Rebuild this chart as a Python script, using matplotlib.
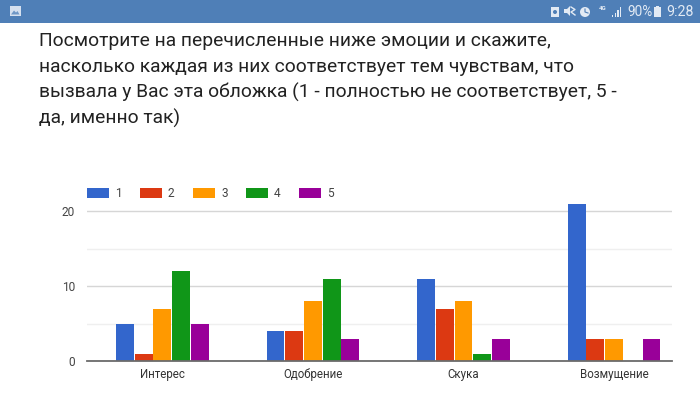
import matplotlib
matplotlib.use("Agg")
import matplotlib.pyplot as plt
from matplotlib.patches import Rectangle, Circle, Polygon

plt.rcParams['font.family'] = ['Roboto', 'DejaVu Sans']

categories = ['Интерес', 'Одобрение', 'Скука', 'Возмущение']
series_names = ['1', '2', '3', '4', '5']
values_1 = [5, 4, 11, 21]
values_2 = [1, 4, 7, 3]
values_3 = [7, 8, 8, 3]
values_4 = [12, 11, 1, 0]
values_5 = [5, 3, 3, 3]
colors = ['#3366cc', '#dc3912', '#ff9900', '#109618', '#990099']
title_lines = ['Посмотрите на перечисленные ниже эмоции и скажите,',
               'насколько каждая из них соответствует тем чувствам, что',
               'вызвала у Вас эта обложка (1 - полностью не соответствует, 5 -',
               'да, именно так)']
title_y = [45.5, 71.5, 97.5, 124]

W, H = 700, 393
fig = plt.figure(figsize=(W / 100, H / 100), dpi=100, facecolor='white')

# pixel overlay
ov = fig.add_axes([0, 0, 1, 1], zorder=5)
ov.set_xlim(0, W); ov.set_ylim(H, 0); ov.axis('off'); ov.patch.set_alpha(0)
bar_c = '#4f7fb7'
ov.add_patch(Rectangle((0, 0), W, 22.5, fc=bar_c, ec='none'))
# picture icon
ov.add_patch(Rectangle((10, 6), 10.5, 10, fc='#d5e0ef', ec='none'))
ov.add_patch(Polygon([(11, 14.5), (14, 10.5), (16, 12.5), (17.5, 11), (19.5, 14.5)], fc='#6f97c6', ec='none'))
# status icons
ic = '#e2eaf4'
ov.add_patch(Rectangle((551, 6.5), 8, 10, fc=ic, ec='none'))
ov.add_patch(Circle((555, 12), 2, fc=bar_c, ec='none'))
ov.add_patch(Polygon([(564, 9), (567, 9), (570, 6), (570, 16), (567, 13), (564, 13)], fc=ic, ec='none'))
ov.plot([571, 575, 571, 575], [7, 9.5, 12, 15], color=ic, lw=1)
ov.add_patch(Circle((585, 12), 5, fc=ic, ec='none'))
ov.plot([585, 585, 588], [9, 12, 13], color=bar_c, lw=0.8)
ov.text(603, 8.5, '4G', color=ic, fontsize=4.5, ha='center', va='center', fontweight='bold')
for i, hh in enumerate((2, 4, 7, 10)):
    ov.add_patch(Rectangle((612 + i * 2.6, 17 - hh), 1.3, hh, fc=ic, ec='none'))
ov.text(627, 12, '90%', color=ic, fontsize=9.8, ha='left', va='center')
ov.add_patch(Rectangle((654, 7), 7, 10, fc=ic, ec='none'))
ov.add_patch(Rectangle((656, 5.5), 3, 2, fc=ic, ec='none'))
ov.text(666, 12, '9:28', color=ic, fontsize=10.3, ha='left', va='center')

# title
for line, y in zip(title_lines, title_y):
    ov.text(39, y, line, fontsize=13.83, color='#222222', ha='left', va='baseline')

# chart
left, right, y0, y20 = 87, 672, 361, 211
ax = fig.add_axes([left / W, 1 - y0 / H, (right - left) / W, (y0 - 180) / H])
period = 150.6
ax.set_xlim(-(162.3 - left) / period, (right - 162.3) / period)
ax.set_ylim(0, (y0 - 180) / ((y0 - y20) / 20))
bw = 18.7 / period
series = [values_1, values_2, values_3, values_4, values_5]
for i, (vals, c) in enumerate(zip(series, colors)):
    ax.bar([k + (i - 2) * bw for k in range(len(categories))], vals, width=bw * 0.96,
           color=c, zorder=3, linewidth=0, label=series_names[i])
for s in ('top', 'right', 'left'):
    ax.spines[s].set_visible(False)
ax.spines['bottom'].set_color('#6b6b6b')
ax.spines['bottom'].set_linewidth(1.3)
ax.spines['bottom'].set_zorder(4)
ax.set_yticks([0, 10, 20])
ax.set_yticks([5, 15], minor=True)
ax.grid(True, axis='y', which='major', color='#d6d6d6', lw=1, zorder=0)
ax.grid(True, axis='y', which='minor', color='#efefef', lw=1, zorder=0)
ax.tick_params(axis='both', which='both', length=0)
ax.tick_params(axis='y', labelsize=8.6, labelcolor='#444444', pad=8.5)
ax.tick_params(axis='x', labelsize=8.3, labelcolor='#333333', pad=12.2)
ax.set_xticks(range(len(categories)))
ax.set_xticklabels(categories, va='baseline')
ax.patch.set_alpha(0)

# legend
for i, (name, c) in enumerate(zip(series_names, colors)):
    x = 87 + i * 53
    ov.add_patch(Rectangle((x, 188), 22, 10, fc=c, ec='none'))
    ov.text(x + 28, 193.5, name, fontsize=8.6, color='#444444', ha='left', va='center')

fig.savefig('out.png', dpi=100)
